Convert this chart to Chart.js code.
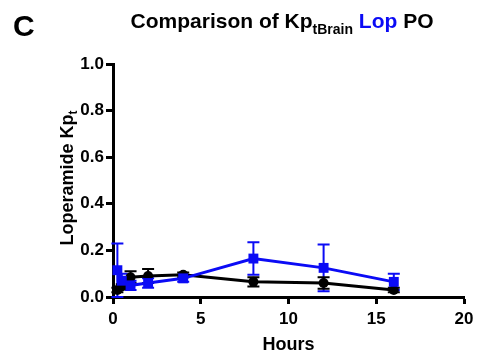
<!DOCTYPE html>
<html>
<head>
<meta charset="utf-8">
<script src="https://cdn.jsdelivr.net/npm/chart.js@4"></script>
<style>
  html, body { margin: 0; padding: 0; background: #fff; }
  #wrap { width: 492px; height: 359px; position: relative; }
</style>
</head>
<body>
<div id="wrap"><canvas id="chart"></canvas></div>
<script>
const hours = [0.25, 0.5, 1, 2, 4, 8, 12, 16];
const lopMean = [0.115, 0.07, 0.05, 0.06, 0.08, 0.165, 0.125, 0.065];
const lopErr = [0.115, 0.03, 0.02, 0.02, 0.015, 0.07, 0.1, 0.035];
const otherMean = [0.03, 0.045, 0.085, 0.09, 0.095, 0.065, 0.06, 0.03];
const otherErr = [0.01, 0.01, 0.025, 0.03, 0.01, 0.02, 0.025, 0.01];
const xTicks = [0, 5, 10, 15, 20];
const yTicks = [0, 0.2, 0.4, 0.6, 0.8, 1.0];

const BLUE = "#0b0bf5";
const FONT = '"Liberation Sans", Arial, sans-serif';

function points(ys) {
  return hours.map((h, i) => ({ x: h, y: ys[i] }));
}

// error bars with caps, drawn under the markers
const errorBars = {
  id: "errorBars",
  beforeDatasetsDraw(chart) {
    const ctx = chart.ctx;
    const xs = chart.scales.x, ys = chart.scales.y;
    chart.data.datasets.forEach((ds) => {
      const errs = ds.errors;
      ctx.save();
      ctx.strokeStyle = ds.borderColor;
      ctx.lineWidth = 2;
      ds.data.forEach((p, i) => {
        const px = xs.getPixelForValue(p.x);
        const top = ys.getPixelForValue(p.y + errs[i]);
        const bot = ys.getPixelForValue(Math.max(0, p.y - errs[i]));
        ctx.beginPath();
        ctx.moveTo(px, top); ctx.lineTo(px, bot);
        ctx.moveTo(px - 6, top); ctx.lineTo(px + 6, top);
        ctx.moveTo(px - 6, bot); ctx.lineTo(px + 6, bot);
        ctx.stroke();
      });
      ctx.restore();
    });
  }
};

// title with subscript, panel letter and y-axis title
const labels = {
  id: "labels",
  afterDraw(chart) {
    const ctx = chart.ctx;
    ctx.save();
    ctx.fillStyle = "#000";
    ctx.textBaseline = "alphabetic";
    ctx.font = "bold 30px " + FONT;
    ctx.fillText("C", 13, 36);

    const parts = [
      { t: "Comparison of Kp", f: "bold 21px ", c: "#000", dy: 0 },
      { t: "tBrain", f: "bold 14px ", c: "#000", dy: 6 },
      { t: " Lop", f: "bold 21px ", c: BLUE, dy: 0 },
      { t: " PO", f: "bold 21px ", c: "#000", dy: 0 }
    ];
    let total = 0;
    parts.forEach(p => { ctx.font = p.f + FONT; total += ctx.measureText(p.t).width; });
    let x = 282 - total / 2;
    parts.forEach(p => {
      ctx.font = p.f + FONT;
      ctx.fillStyle = p.c;
      ctx.fillText(p.t, x, 28 + p.dy);
      x += ctx.measureText(p.t).width;
    });

    ctx.translate(73, 178);
    ctx.rotate(-Math.PI / 2);
    ctx.fillStyle = "#000";
    const a = "Loperamide Kp";
    ctx.font = "bold 18px " + FONT;
    const wa = ctx.measureText(a).width;
    ctx.font = "bold 12px " + FONT;
    const wb = ctx.measureText("t").width;
    const sx = -(wa + wb) / 2;
    ctx.font = "bold 18px " + FONT;
    ctx.fillText(a, sx, 0);
    ctx.font = "bold 12px " + FONT;
    ctx.fillText("t", sx + wa, 4);
    ctx.restore();
  }
};

new Chart(document.getElementById("chart"), {
  type: "line",
  data: {
    datasets: [
      {
        label: "Lop PO",
        data: points(lopMean),
        errors: lopErr,
        borderColor: BLUE,
        backgroundColor: BLUE,
        borderWidth: 3,
        pointStyle: "rect",
        pointRadius: 7,
        pointBorderWidth: 0,
        tension: 0,
        clip: false
      },
      {
        label: "Comparison",
        data: points(otherMean),
        errors: otherErr,
        borderColor: "#000",
        backgroundColor: "#000",
        borderWidth: 3,
        pointStyle: "circle",
        pointRadius: 5,
        pointBorderWidth: 0,
        tension: 0,
        clip: false
      }
    ]
  },
  options: {
    responsive: true,
    maintainAspectRatio: false,
    animation: false,
    layout: { padding: { left: 0, right: 28, top: 64, bottom: 0 } },
    plugins: {
      legend: { display: false },
      tooltip: { enabled: false },
      title: { display: false }
    },
    scales: {
      x: {
        type: "linear",
        min: 0,
        max: 20,
        afterBuildTicks: (s) => { s.ticks = xTicks.map(v => ({ value: v })); },
        afterFit: (s) => { s.height = 62; },
        border: { color: "#000", width: 3 },
        grid: { drawOnChartArea: false, drawTicks: true, tickLength: 7, tickWidth: 3, color: "#000" },
        ticks: {
          color: "#000",
          padding: 5,
          font: { size: 17, weight: "bold", family: FONT }
        },
        title: {
          display: true,
          text: "Hours",
          color: "#000",
          padding: { top: 4, bottom: 3 },
          font: { size: 18, weight: "bold", family: FONT }
        }
      },
      y: {
        min: 0,
        max: 1,
        afterBuildTicks: (s) => { s.ticks = yTicks.map(v => ({ value: v })); },
        afterFit: (s) => { s.width = 113; },
        border: { color: "#000", width: 3 },
        grid: { drawOnChartArea: false, drawTicks: true, tickLength: 7, tickWidth: 3, color: "#000" },
        ticks: {
          color: "#000",
          padding: 2,
          font: { size: 17, weight: "bold", family: FONT },
          callback: (v) => v.toFixed(1)
        }
      }
    }
  },
  plugins: [errorBars, labels]
});
</script>
</body>
</html>
